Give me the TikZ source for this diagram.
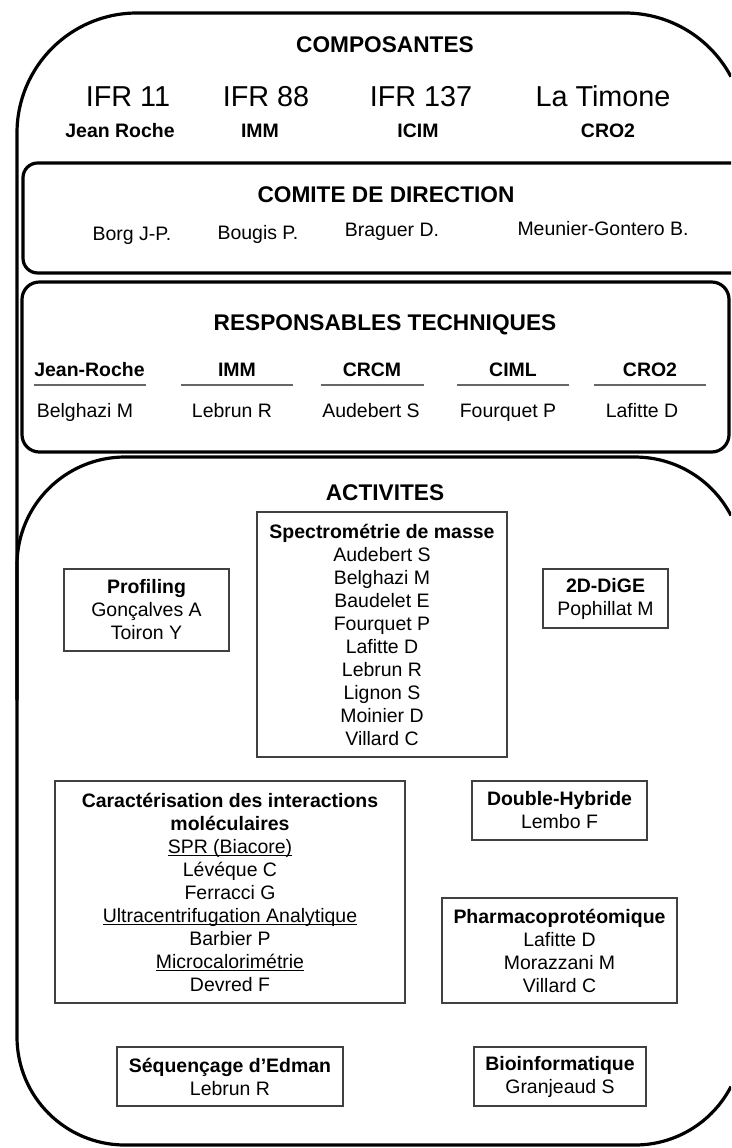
\documentclass[tikz,border=0pt]{standalone}
\usepackage{fontspec}
\setmainfont{Liberation Sans}

\newcommand{\fnthead}{\fontsize{17}{20}\bfseries\selectfont}
\newcommand{\fntbig}{\fontsize{21.6}{25}\selectfont}
\newcommand{\fntbody}{\fontsize{14.6}{17.25}\selectfont}
\newcommand{\techul}[1]{\underline{\smash{#1}}}

\tikzset{every picture/.style={line width=0.75pt}}
\tikzset{
  frame/.style={draw=black, line width=2.4pt},
  actbox/.style={draw=black!75, line width=1pt, align=center, inner sep=0pt, font=\fntbody},
  headtxt/.style={anchor=base, font=\fnthead},
  bigtxt/.style={anchor=base, font=\fntbig},
  subtxt/.style={anchor=base, font=\fntbody\bfseries},
  nametxt/.style={anchor=base, font=\fntbody},
  colhead/.style={anchor=base, font=\fntbody\bfseries, inner xsep=0pt, minimum width=83.25pt},
  colrule/.style={draw=black!60, line width=1.1pt}
}

\begin{document}
\begin{tikzpicture}[x=0.75pt,y=0.75pt,yscale=-1,xscale=1]
	\useasboundingbox (0,0) rectangle (731,1148);
	\clip (0,0) rectangle (731,1148);

	%Shape: Outer frame
	\draw [frame] (17,700) -- (17,133) arc [start angle=180, end angle=270, radius=120] -- (625,13) arc [start angle=270, end angle=332, radius=120] ;
	%Shape: Comite frame
	\draw [frame, rounded corners=11pt] (733,163) -- (23,163) -- (23,273) -- (733,273) ;
	%Shape: Responsables frame
	\draw [frame, rounded corners=13pt] (22,282) rectangle (729,452) ;
	%Shape: Activites frame
	\draw [frame] (731,515.5) arc [start angle=332.7, end angle=270, radius=108] -- (125,457) arc [start angle=270, end angle=180, radius=108] -- (17,1037) arc [start angle=180, end angle=90, radius=108] -- (635,1145) arc [start angle=90, end angle=27.3, radius=108] ;

	% Text Node
	\node [headtxt] (compo) at (385,53) {COMPOSANTES};
	\node [bigtxt] (ifr11) at (128,107) {IFR 11};
	\node [bigtxt] (ifr88) at (266,107) {IFR 88};
	\node [bigtxt] (ifr137) at (421,107) {IFR 137};
	\node [bigtxt] (timone) at (603,107) {La Timone};
	\node [subtxt] (jroche) at (120,138) {Jean Roche};
	\node [subtxt] (imm) at (260,138) {IMM};
	\node [subtxt] (icim) at (418,138) {ICIM};
	\node [subtxt] (cro) at (608,138) {CRO2};

	% Text Node
	\node [headtxt] (comite) at (386,203) {COMITE DE DIRECTION};
	\node [nametxt] (borg) at (132,240) {Borg J-P.};
	\node [nametxt] (bougis) at (258,239) {Bougis P.};
	\node [nametxt] (braguer) at (392,237) {Braguer D.};
	\node [nametxt] (meunier) at (603,235) {Meunier-Gontero B.};

	% Text Node
	\node [headtxt] (resp) at (385,330) {RESPONSABLES TECHNIQUES};
	\node [colhead] (hjr) at (89.5,376) {Jean-Roche};
	\node [colhead] (himm) at (237,376) {IMM};
	\node [colhead, minimum width=76.5pt] (hcrcm) at (372,376) {CRCM};
	\node [colhead] (hciml) at (513,376) {CIML};
	\node [colhead] (hcro) at (650,376) {CRO2};
	\foreach \h in {hjr,himm,hcrcm,hciml,hcro}
		\draw [colrule] ([yshift=6.75pt]\h.base west) -- ([yshift=6.75pt]\h.base east) ;
	\node [nametxt] (rjr) at (85,417) {Belghazi M};
	\node [nametxt] (rimm) at (232,417) {Lebrun R};
	\node [nametxt] (rcrcm) at (371,417) {Audebert S};
	\node [nametxt] (rciml) at (508,417) {Fourquet P};
	\node [nametxt] (rcro) at (642,417) {Lafitte D};

	% Text Node
	\node [headtxt] (activ) at (385,500) {ACTIVITES};

	% Activity boxes
	\node [actbox, minimum width=187.5pt, minimum height=183.75pt] (spectro) at (382,634.5)
		{\textbf{Spectrométrie de masse}\\Audebert S\\Belghazi M\\Baudelet E\\Fourquet P\\Lafitte D\\Lebrun R\\Lignon S\\Moinier D\\Villard C};
	\node [actbox, minimum width=123.75pt, minimum height=61.5pt] (profil) at (146.5,610)
		{\textbf{Profiling}\\Gonçalves A\\Toiron Y};
	\node [actbox, minimum width=93.75pt, minimum height=44.25pt] (dige) at (605.5,598.5)
		{\textbf{2D-DiGE}\\Pophillat M};
	\node [actbox, minimum width=262.5pt, minimum height=166.5pt] (interact) at (230,892)
		{\textbf{Caractérisation des interactions}\\\textbf{moléculaires}\\\techul{SPR (Biacore)}\\Lévéque C\\Ferracci G\\\techul{Ultracentrifugation Analytique}\\Barbier P\\\techul{Microcalorimétrie}\\Devred F};
	\node [actbox, minimum width=131.25pt, minimum height=44.25pt] (hybride) at (559.5,810.5)
		{\textbf{Double-Hybride}\\Lembo F};
	\node [actbox, minimum width=176.25pt, minimum height=78.75pt] (pharma) at (559.5,950.5)
		{\textbf{Pharmacoprotéomique}\\Lafitte D\\Morazzani M\\Villard C};
	\node [actbox, minimum width=169.5pt, minimum height=44.25pt] (edman) at (230,1076.5)
		{\textbf{Séquençage d’Edman}\\Lebrun R};
	\node [actbox, minimum width=129pt, minimum height=44.25pt] (bioinfo) at (560,1076.5)
		{\textbf{Bioinformatique}\\Granjeaud S};

\end{tikzpicture}
\end{document}
